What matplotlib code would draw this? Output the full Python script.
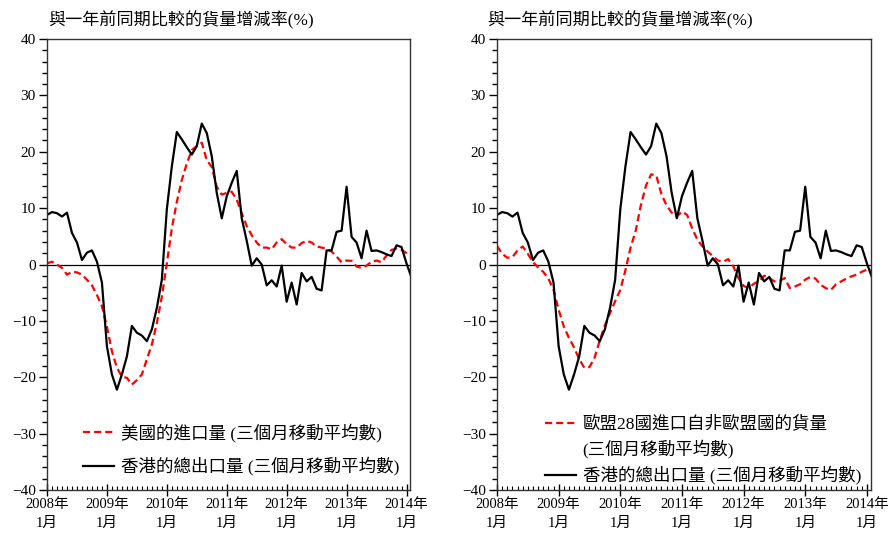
import matplotlib
matplotlib.use("Agg")
import matplotlib.pyplot as plt
from matplotlib.lines import Line2D
from matplotlib.ticker import MultipleLocator, FixedLocator
import numpy as np

plt.rcParams['font.family'] = ['Liberation Serif', 'Noto Sans CJK TC', 'DejaVu Sans']

# monthly, Jan 2008 onward (3-month moving average, % change yoy)
hk_exports = [8.8, 9.3, 9.1, 8.5, 9.2, 5.6, 3.9, 0.8, 2.1, 2.5, 0.5, -3.2,
              -14.5, -19.5, -22.2, -19.5, -16.3, -10.9, -12.1, -12.6, -13.6, -11.5, -7.7, -2.7,
              9.8, 17.4, 23.5, 22.2, 20.8, 19.5, 21.0, 25.0, 23.3, 19.2, 12.7, 8.2,
              12.1, 14.5, 16.6, 8.2, 4.2, -0.2, 1.1, 0.0, -3.7, -2.8, -3.9, -0.2,
              -6.6, -3.2, -7.1, -1.5, -3.0, -2.2, -4.3, -4.6, 2.5, 2.5, 5.8, 6.0,
              13.8, 4.9, 3.9, 1.1, 6.0, 2.4, 2.5, 2.2, 1.8, 1.5, 3.4, 3.1,
              0.2, -2.3]

us_imports = [0.2, 0.5, 0.0, -0.6, -1.8, -1.3, -1.4, -1.8, -2.7, -3.7, -5.4, -7.4,
              -11.0, -15.4, -18.3, -19.9, -20.1, -21.3, -20.5, -19.5, -16.8, -14.2, -10.4, -5.7,
              0.2, 6.4, 11.1, 15.0, 17.9, 20.3, 21.0, 21.6, 18.5, 17.3, 13.8, 12.4,
              12.7, 12.9, 11.5, 9.1, 6.8, 5.2, 3.9, 3.0, 3.0, 2.7, 3.9, 4.5,
              3.6, 3.0, 3.0, 3.8, 4.2, 3.9, 3.2, 3.0, 2.8, 2.3, 1.4, 0.4,
              0.7, 0.65, -0.35, -0.6, -0.2, 0.5, 0.7, 0.4, 1.6, 2.6, 2.8, 2.6,
              2.0, 1.5]

eu_imports = [3.3, 1.9, 1.2, 1.3, 2.5, 3.2, 1.9, 0.4, -0.5, -1.3, -2.5, -4.5,
              -8.0, -11.0, -13.0, -14.7, -16.8, -18.3, -18.2, -16.5, -13.5, -10.8, -8.6, -6.5,
              -4.5, -1.0, 3.0, 6.0, 10.5, 14.0, 16.0, 15.8, 12.5, 10.5, 9.2, 8.5,
              9.4, 8.8, 6.4, 4.4, 3.2, 2.3, 1.5, 0.7, 0.5, 0.95, -0.35, -2.4,
              -3.8, -4.2, -3.4, -3.0, -2.0, -2.4, -3.0, -2.9, -2.4, -4.2, -3.9, -3.5,
              -2.7, -2.2, -2.5, -3.6, -4.2, -4.5, -3.5, -3.0, -2.5, -2.1, -1.8, -1.3,
              -0.9, -1.1]

years = [2008, 2009, 2010, 2011, 2012, 2013, 2014]
tick_labels = [f"{y}年\n1月" for y in years]

title = "與一年前同期比較的貨量增減率(%)"
hk_label = "香港的總出口量 (三個月移動平均數)"
us_label = "美國的進口量 (三個月移動平均數)"
eu_label1 = "歐盟28國進口自非歐盟國的貨量"
eu_label2 = "(三個月移動平均數)"

W, H = 890, 536
fig = plt.figure(figsize=(W / 100, H / 100), dpi=100)


def fx(px):
    return px / W


def fy(py):
    return 1 - py / H


def setup_axis(ax, xmax):
    ax.set_xlim(0, xmax)
    ax.set_ylim(-40, 40)
    ax.axhline(0, color='black', lw=0.9, zorder=1)
    ax.yaxis.set_major_locator(MultipleLocator(10))
    ax.yaxis.set_minor_locator(MultipleLocator(2))
    ax.xaxis.set_major_locator(FixedLocator([12 * i for i in range(len(years))]))
    ax.xaxis.set_minor_locator(MultipleLocator(1))
    ax.set_xticklabels(tick_labels, linespacing=1.5)
    ax.tick_params(axis='y', which='major', direction='out', length=6, width=1, labelsize=11, pad=2)
    ax.tick_params(axis='y', which='minor', direction='out', length=3.5, width=1)
    ax.tick_params(axis='x', which='major', direction='inout', length=8, width=1, labelsize=10.5, pad=2)
    ax.tick_params(axis='x', which='minor', direction='in', length=3, width=0.8)
    for s in ax.spines.values():
        s.set_linewidth(1)
        s.set_color('#333333')


x = np.arange(len(hk_exports))

# left panel
ax1 = fig.add_axes([fx(47), fy(490), fx(410) - fx(47), fy(39) - fy(490)])
setup_axis(ax1, 72.7)
l_us, = ax1.plot(x, us_imports, color='#ff0000', lw=1.6, dashes=(3.2, 1.8))
l_hk, = ax1.plot(x, hk_exports, color='black', lw=1.6)
ax1.legend([l_us, l_hk], [us_label, hk_label], loc='upper left',
           bbox_to_anchor=(fx(83), fy(423)), bbox_transform=fig.transFigure,
           frameon=False, fontsize=12.6, borderpad=0, borderaxespad=0,
           handlelength=1.75, handletextpad=0.4, labelspacing=0.85)

# right panel
ax2 = fig.add_axes([fx(497), fy(490), fx(871) - fx(497), fy(39) - fy(490)])
setup_axis(ax2, 72.8)
r_eu, = ax2.plot(x, eu_imports, color='#ff0000', lw=1.6, dashes=(3.2, 1.8))
r_hk, = ax2.plot(x, hk_exports, color='black', lw=1.6)
blank = Line2D([], [], color='none')
ax2.legend([r_eu, blank, r_hk], [eu_label1, eu_label2, hk_label], loc='upper left',
           bbox_to_anchor=(fx(545), fy(416)), bbox_transform=fig.transFigure,
           frameon=False, fontsize=12.6, borderpad=0, borderaxespad=0,
           handlelength=1.75, handletextpad=0.4, labelspacing=0.4)

fig.text(fx(48), fy(20), title, fontsize=12.3, va='center', ha='left')
fig.text(fx(487), fy(20), title, fontsize=12.3, va='center', ha='left')

fig.savefig("out.png", dpi=100)
